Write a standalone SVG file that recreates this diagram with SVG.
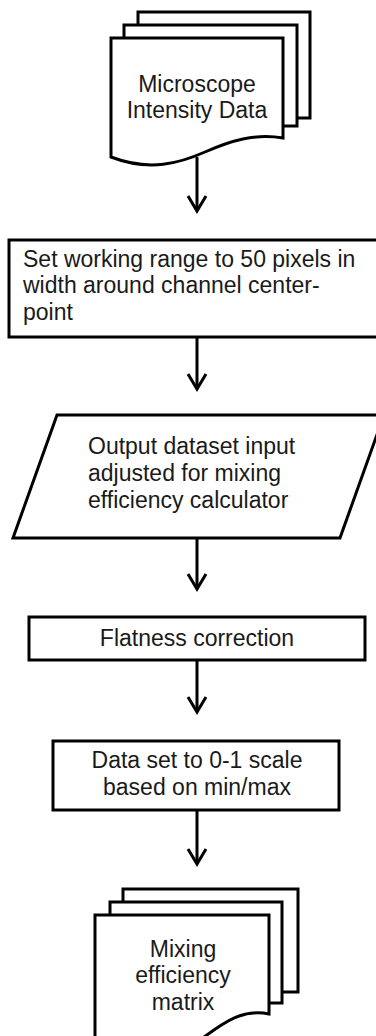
<svg xmlns="http://www.w3.org/2000/svg" width="376" height="1036" viewBox="0 0 376 1036">
<style>
.s{fill:#fff;stroke:#000;stroke-width:3;stroke-linejoin:miter}
.t{font-family:"Liberation Sans",Arial,sans-serif;font-size:23px;fill:#1a1a1a}
.c{text-anchor:middle}
.e{fill:none;stroke:#000;stroke-width:3}
</style>
<defs>
<marker id="arr" markerUnits="userSpaceOnUse" markerWidth="26" markerHeight="26" viewBox="0 0 26 26" refX="21" refY="13" orient="auto">
<path d="M6,4 L21,13 L6,22" fill="none" stroke="#000" stroke-width="3"/>
</marker>
</defs>
<g id="n1">
<rect class="s" x="138" y="12" width="172" height="106"/>
<rect class="s" x="124" y="25" width="173" height="101"/>
<path class="s" d="M111,38 H283 V138 C255,133 230,141 205,152 C180,163 150,172 111,157 Z"/>
<text class="t c" x="197" y="92">Microscope</text>
<text class="t c" x="197" y="118">Intensity Data</text>
</g>
<g id="n2">
<rect class="s" x="9" y="240" width="380" height="97"/>
<text class="t" x="23" y="267">Set working range to 50 pixels in</text>
<text class="t" x="23" y="293">width around channel center-</text>
<text class="t" x="23" y="320">point</text>
</g>
<g id="n3">
<path class="s" d="M57,415 H384 L340,538 H13 Z"/>
<text class="t" x="88" y="454">Output dataset input</text>
<text class="t" x="88" y="481">adjusted for mixing</text>
<text class="t" x="88" y="508">efficiency calculator</text>
</g>
<g id="n4">
<rect class="s" x="29" y="617" width="336" height="43"/>
<text class="t c" x="197" y="646">Flatness correction</text>
</g>
<g id="n5">
<rect class="s" x="53" y="741" width="286" height="69"/>
<text class="t c" x="197" y="768">Data set to 0-1 scale</text>
<text class="t c" x="197" y="795">based on min/max</text>
</g>
<g id="n6">
<rect class="s" x="123" y="889" width="175" height="103"/>
<rect class="s" x="110" y="902" width="172" height="101"/>
<path class="s" d="M95,915 H269 V1014 C242,1008 222,1024 200,1040 L95,1045 Z"/>
<text class="t c" x="183" y="957">Mixing</text>
<text class="t c" x="183" y="983">efficiency</text>
<text class="t c" x="183" y="1010">matrix</text>
</g>
<g id="connectors">
<line class="e" x1="197" y1="157" x2="197" y2="211" marker-end="url(#arr)"/>
<line class="e" x1="197" y1="337" x2="197" y2="389" marker-end="url(#arr)"/>
<line class="e" x1="197" y1="538" x2="197" y2="589" marker-end="url(#arr)"/>
<line class="e" x1="197" y1="660" x2="197" y2="712" marker-end="url(#arr)"/>
<line class="e" x1="197" y1="810" x2="197" y2="864" marker-end="url(#arr)"/>
</g>
</svg>
